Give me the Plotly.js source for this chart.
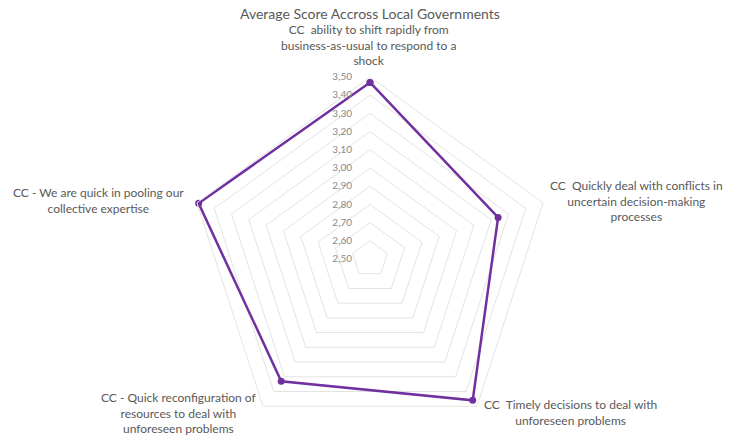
<!DOCTYPE html>
<html>
<head>
<meta charset="utf-8">
<script src="https://cdn.plot.ly/plotly-3.0.1.min.js"></script>
<style>
html,body{margin:0;padding:0;background:#fff;}
#wrap{width:739px;height:435px;overflow:hidden;position:relative;}
#chart{width:739px;height:450px;}
</style>
</head>
<body>
<div id="wrap"><div id="chart"></div></div>
<script>
// Data
const categories = [
  "CC  ability to shift rapidly from business-as-usual to respond to a shock",
  "CC  Quickly deal with conflicts in uncertain decision-making processes",
  "CC  Timely decisions to deal with unforeseen problems",
  "CC - Quick reconfiguration of resources to deal with unforeseen problems",
  "CC - We are quick in pooling our collective expertise"
];
const categoryLabels = [
  "CC\u00A0 ability to shift rapidly from<br>business-as-usual to respond to a<br>shock",
  "CC\u00A0 Quickly deal with conflicts in<br>uncertain decision-making<br>processes",
  "CC\u00A0 Timely decisions to deal with<br>unforeseen problems",
  "CC - Quick reconfiguration of<br>resources to deal with<br>unforeseen problems",
  "CC - We are quick in pooling our<br>collective expertise"
];
const scores = [3.47, 3.24, 3.46, 3.33, 3.49];
const tickValues = [2.5, 2.6, 2.7, 2.8, 2.9, 3.0, 3.1, 3.2, 3.3, 3.4, 3.5];
const tickLabels = ["2,50","2,60","2,70","2,80","2,90","3,00","3,10","3,20","3,30","3,40","3,50"];
const chartTitle = "Average Score Accross Local Governments";

const W = 739, H = 450;
const px = x => x / W;
const py = y => (H - y) / H;
const labelPos = [[368, 45], [636, 201], [570, 412], [179, 413], [98, 200]];

const rClosed = scores.concat([scores[0]]);
const tClosed = categories.concat([categories[0]]);

const grid = '#e3e3e3';
const txt = '#595959';
const font = 'Lato, "Open Sans", sans-serif';

const trace = {
  type: 'scatterpolar',
  r: rClosed,
  theta: tClosed,
  mode: 'lines+markers',
  line: {color: '#7030A0', width: 2.5},
  marker: {color: '#7030A0', size: 7},
  hoverinfo: 'skip',
  showlegend: false
};

const cx = 370, cy = 259, R = 182;
const layout = {
  width: W, height: H,
  margin: {l: 0, r: 0, t: 0, b: 0},
  paper_bgcolor: '#fff',
  font: {family: font, color: txt, size: 12},
  showlegend: false,
  polar: {
    domain: {x: [px(cx - R), px(cx + R)], y: [py(cy + R), py(cy - R)]},
    bgcolor: '#fff',
    gridshape: 'linear',
    radialaxis: {
      range: [2.5, 3.5],
      tickvals: tickValues,
      ticktext: tickLabels,
      angle: 90,
      tickangle: 90,
      side: 'counterclockwise',
      showline: false,
      ticks: 'outside',
      ticklen: 14,
      tickcolor: 'rgba(0,0,0,0)',
      showgrid: true,
      gridcolor: grid,
      gridwidth: 1,
      tickfont: {family: font, size: 10, color: '#8a8a8a'}
    },
    angularaxis: {
      type: 'category',
      categoryarray: categories,
      rotation: 90,
      direction: 'clockwise',
      showgrid: false,
      showline: true,
      linecolor: grid,
      linewidth: 1,
      ticks: '',
      showticklabels: false
    }
  },
  annotations: categoryLabels.map((t, i) => ({
    text: t, xref: 'paper', yref: 'paper',
    x: px(labelPos[i][0]), y: py(labelPos[i][1]),
    xanchor: 'center', yanchor: 'middle', showarrow: false,
    align: 'center', font: {family: font, size: 12, color: txt}
  })).concat([{
    text: chartTitle, xref: 'paper', yref: 'paper',
    x: px(370), y: py(14), xanchor: 'center', yanchor: 'middle',
    showarrow: false, font: {family: font, size: 14, color: txt}
  }])
};

Plotly.newPlot('chart', [trace], layout, {displayModeBar: false, staticPlot: true});
</script>
</body>
</html>
